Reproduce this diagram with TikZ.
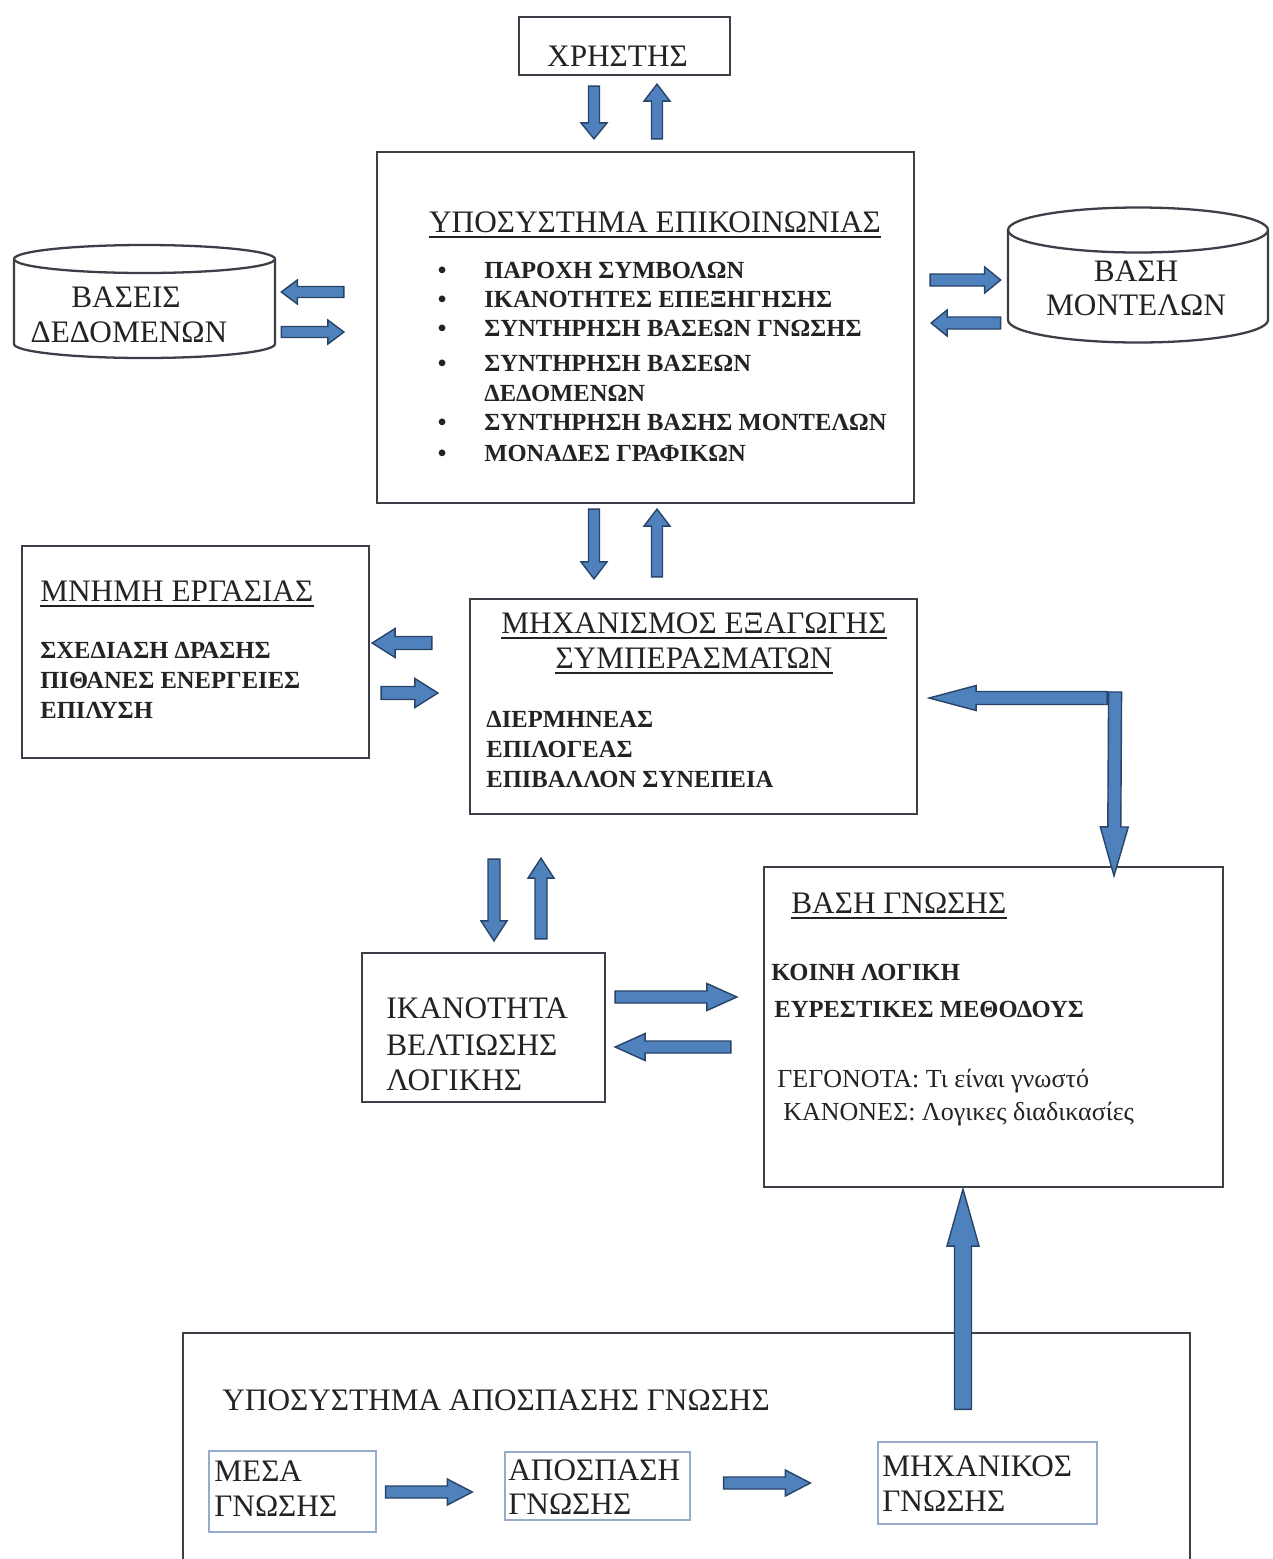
\documentclass[tikz,border=0pt]{standalone}
\usepackage{fontspec}
\setmainfont{Liberation Serif}
\usetikzlibrary{calc}
\definecolor{boxc}{RGB}{62,62,72}
\definecolor{arrf}{RGB}{79,129,189}
\definecolor{arrd}{RGB}{40,68,105}
\definecolor{innerc}{RGB}{150,172,202}
\definecolor{textc}{RGB}{35,35,35}
\newcommand{\bigf}{\fontsize{17.8}{21}\selectfont}
\newcommand{\smf}{\fontsize{14.8}{17}\selectfont}
\newcommand{\smb}{\fontsize{14}{17}\selectfont\bfseries}
\newcommand{\barrow}[5]{%
  \coordinate (bas) at #1;
  \coordinate (bat) at #2;
  \coordinate (bab) at ($(bat)!#5!(bas)$);
  \draw[blk] ($(bas)!#3!90:(bat)$) -- ($(bab)!#3!90:(bat)$) -- ($(bab)!#4!90:(bat)$)
    -- (bat) -- ($(bab)!#4!-90:(bat)$) -- ($(bab)!#3!-90:(bat)$) -- ($(bas)!#3!-90:(bat)$) -- cycle;}
\tikzset{
  box/.style={draw=boxc, line width=1.3pt, inner sep=0pt},
  ibox/.style={draw=innerc, line width=0.8pt, inner sep=0pt},
  ghost/.style={inner sep=0pt},
  txt/.style={inner sep=0pt, anchor=base west, text=textc},
  blk/.style={fill=arrf, draw=arrd, line width=0.8pt, line join=miter},
  cyl/.style={draw=boxc, line width=1.3pt},
  uline/.style={draw=textc, line width=1pt},
}
\begin{document}
\begin{tikzpicture}[x=0.02cm, y=-0.02cm]
\useasboundingbox (0,0) rectangle (1272,1559);
\fill[white] (0,0) rectangle (1272,1559);
\clip (0,0) rectangle (1272,1559);

% ---------- boxes ----------
\node[box, minimum width=4.22cm, minimum height=1.16cm] (user) at (624.5,46) {};
\node[box, minimum width=10.74cm, minimum height=7.02cm] (comm) at (645.5,327.5) {};
\node[ghost, minimum width=5.22cm, minimum height=2.26cm] (db) at (144.5,301.5) {};
\node[ghost, minimum width=5.2cm, minimum height=2.74cm] (mb) at (1137,278.5) {};
\node[box, minimum width=6.94cm, minimum height=4.24cm] (wm) at (195.5,652) {};
\node[box, minimum width=8.94cm, minimum height=4.3cm] (ie) at (693.5,706.5) {};
\node[box, minimum width=4.86cm, minimum height=2.98cm] (ik) at (483.5,1027.5) {};
\node[box, minimum width=9.18cm, minimum height=6.4cm] (kb) at (993.5,1027) {};
\node[box, minimum width=20.14cm, minimum height=4.94cm] (ka) at (686.5,1456.5) {};
\node[ibox, minimum width=3.34cm, minimum height=1.62cm] (ms) at (292.5,1491.5) {};
\node[ibox, minimum width=3.7cm, minimum height=1.36cm] (ap) at (597.5,1486) {};
\node[ibox, minimum width=4.38cm, minimum height=1.64cm] (mk) at (987.5,1483) {};

% ---------- cylinders ----------
\draw[cyl] (14,259) -- (14,344) arc[start angle=180, end angle=360, x radius=2.61cm, y radius=0.28cm] -- (275,259);
\draw[cyl] (144.5,259) ellipse[x radius=2.61cm, y radius=0.28cm];
\draw[cyl] (1008,230) -- (1008,320) arc[start angle=180, end angle=360, x radius=2.6cm, y radius=0.45cm] -- (1268,230);
\draw[cyl] (1138,230) ellipse[x radius=2.6cm, y radius=0.45cm];

% ---------- texts ----------
\node[txt, anchor=base, font=\bigf] (tuser) at (617.5,66) {ΧΡΗΣΤΗΣ};

\node[txt, anchor=base, font=\bigf] (tcomm) at (655,232) {ΥΠΟΣΥΣΤΗΜΑ ΕΠΙΚΟΙΝΩΝΙΑΣ};
\draw[uline] ([yshift=-0.1cm]tcomm.base west) -- ([yshift=-0.1cm]tcomm.base east);
\node[txt, font=\smb] (c1) at (437.5,278) {\makebox[0.93cm][l]{•}ΠΑΡΟΧΗ ΣΥΜΒΟΛΩΝ};
\node[txt, font=\smb] (c2) at (437.5,307) {\makebox[0.93cm][l]{•}ΙΚΑΝΟΤΗΤΕΣ ΕΠΕΞΗΓΗΣΗΣ};
\node[txt, font=\smb] (c3) at (437.5,336) {\makebox[0.93cm][l]{•}ΣΥΝΤΗΡΗΣΗ ΒΑΣΕΩΝ ΓΝΩΣΗΣ};
\node[txt, font=\smb] (c4) at (437.5,371) {\makebox[0.93cm][l]{•}ΣΥΝΤΗΡΗΣΗ ΒΑΣΕΩΝ};
\node[txt, font=\smb] (c5) at (484,401) {ΔΕΔΟΜΕΝΩΝ};
\node[txt, font=\smb] (c6) at (437.5,430) {\makebox[0.93cm][l]{•}ΣΥΝΤΗΡΗΣΗ ΒΑΣΗΣ ΜΟΝΤΕΛΩΝ};
\node[txt, font=\smb] (c7) at (437.5,461) {\makebox[0.93cm][l]{•}ΜΟΝΑΔΕΣ ΓΡΑΦΙΚΩΝ};

\node[txt, anchor=base, font=\bigf] (tdb1) at (126,307) {ΒΑΣΕΙΣ};
\node[txt, anchor=base, font=\bigf] (tdb2) at (129,342) {ΔΕΔΟΜΕΝΩΝ};
\node[txt, anchor=base, font=\bigf] (tmb1) at (1136,281) {ΒΑΣΗ};
\node[txt, anchor=base, font=\bigf] (tmb2) at (1136,315) {ΜΟΝΤΕΛΩΝ};

\node[txt, font=\bigf] (twm) at (40,601) {ΜΝΗΜΗ ΕΡΓΑΣΙΑΣ};
\draw[uline] ([yshift=-0.1cm]twm.base west) -- ([yshift=-0.1cm]twm.base east);
\node[txt, font=\smb] (w1) at (40,658) {ΣΧΕΔΙΑΣΗ ΔΡΑΣΗΣ};
\node[txt, font=\smb] (w2) at (40,688) {ΠΙΘΑΝΕΣ ΕΝΕΡΓΕΙΕΣ};
\node[txt, font=\smb] (w3) at (40,718) {ΕΠΙΛΥΣΗ};

\node[txt, anchor=base, font=\bigf] (tie1) at (694,633) {ΜΗΧΑΝΙΣΜΟΣ ΕΞΑΓΩΓΗΣ};
\draw[uline] ([yshift=-0.1cm]tie1.base west) -- ([yshift=-0.1cm]tie1.base east);
\node[txt, anchor=base, font=\bigf] (tie2) at (694,668) {ΣΥΜΠΕΡΑΣΜΑΤΩΝ};
\draw[uline] ([yshift=-0.1cm]tie2.base west) -- ([yshift=-0.1cm]tie2.base east);
\node[txt, font=\smb] (i1) at (486,727) {ΔΙΕΡΜΗΝΕΑΣ};
\node[txt, font=\smb] (i2) at (486,757) {ΕΠΙΛΟΓΕΑΣ};
\node[txt, font=\smb] (i3) at (486,787) {ΕΠΙΒΑΛΛΟΝ ΣΥΝΕΠΕΙΑ};

\node[txt, font=\bigf] (k1) at (386,1018) {ΙΚΑΝΟΤΗΤΑ};
\node[txt, font=\bigf] (k2) at (386,1055) {ΒΕΛΤΙΩΣΗΣ};
\node[txt, font=\bigf] (k3) at (386,1090) {ΛΟΓΙΚΗΣ};

\node[txt, font=\bigf] (tkb) at (791,913) {ΒΑΣΗ ΓΝΩΣΗΣ};
\draw[uline] ([yshift=-0.1cm]tkb.base west) -- ([yshift=-0.1cm]tkb.base east);
\node[txt, font=\smb] (b1) at (771,980) {ΚΟΙΝΗ ΛΟΓΙΚΗ};
\node[txt, font=\smb] (b2) at (774,1017) {ΕΥΡΕΣΤΙΚΕΣ ΜΕΘΟΔΟΥΣ};
\node[txt, font=\smf] (b3) at (777,1087) {ΓΕΓΟΝΟΤΑ: Τι είναι γνωστό};
\node[txt, font=\smf] (b4) at (783,1120) {ΚΑΝΟΝΕΣ: Λογικες διαδικασίες};

\node[txt, font=\bigf] (tka) at (222,1410) {ΥΠΟΣΥΣΤΗΜΑ ΑΠΟΣΠΑΣΗΣ ΓΝΩΣΗΣ};
\node[txt, font=\bigf] (m1) at (214,1481) {ΜΕΣΑ};
\node[txt, font=\bigf] (m2) at (214,1516) {ΓΝΩΣΗΣ};
\node[txt, font=\bigf] (a1) at (508,1480) {ΑΠΟΣΠΑΣΗ};
\node[txt, font=\bigf] (a2) at (508,1514) {ΓΝΩΣΗΣ};
\node[txt, font=\bigf] (e1) at (882,1476) {ΜΗΧΑΝΙΚΟΣ};
\node[txt, font=\bigf] (e2) at (882,1511) {ΓΝΩΣΗΣ};

% ---------- block arrows ----------
\barrow{($(user.south)+(-30.5,10)$)}{($(comm.north)+(-51.5,-12)$)}{0.11cm}{0.26cm}{0.32cm}
\barrow{($(comm.north)+(11.5,-12)$)}{($(user.south)+(32.5,8)$)}{0.11cm}{0.26cm}{0.34cm}
\barrow{($(comm.west)+(-32,-35.5)$)}{($(db.east)+(6,-9.5)$)}{0.11cm}{0.24cm}{0.32cm}
\barrow{($(db.east)+(6,30.5)$)}{($(comm.west)+(-32,4.5)$)}{0.11cm}{0.24cm}{0.32cm}
\barrow{($(comm.east)+(15,-47.5)$)}{($(mb.west)+(-6,1.5)$)}{0.12cm}{0.26cm}{0.32cm}
\barrow{($(mb.west)+(-6,44.5)$)}{($(comm.east)+(16,-4.5)$)}{0.12cm}{0.26cm}{0.32cm}
\barrow{($(comm.south)+(-51.5,5)$)}{($(ie.north)+(-99.5,-19)$)}{0.11cm}{0.26cm}{0.34cm}
\barrow{($(ie.north)+(-36.5,-21)$)}{($(comm.south)+(11.5,5)$)}{0.11cm}{0.26cm}{0.34cm}
\barrow{($(ie.west)+(-37,-63.5)$)}{($(wm.east)+(2,-9)$)}{0.13cm}{0.29cm}{0.46cm}
\barrow{($(wm.east)+(11,41)$)}{($(ie.west)+(-31,-13.5)$)}{0.13cm}{0.29cm}{0.46cm}
\barrow{($(ie.south)+(-199.5,44)$)}{($(ik.north)+(10.5,-11)$)}{0.12cm}{0.26cm}{0.4cm}
\barrow{($(ik.north)+(57.5,-13)$)}{($(ie.south)+(-152.5,43)$)}{0.12cm}{0.26cm}{0.4cm}
\barrow{($(ik.east)+(9,-30.5)$)}{($(kb.west)+(-26,-30)$)}{0.12cm}{0.27cm}{0.6cm}
\barrow{($(kb.west)+(-32,20)$)}{($(ik.east)+(9,19.5)$)}{0.12cm}{0.27cm}{0.6cm}
\barrow{($(ie.east)+(197,-14.5)$)}{($(kb.north)+(120.5,10)$)}{0.13cm}{0.28cm}{0.98cm}
\barrow{($(ie.east)+(189,-8.5)$)}{($(ie.east)+(11,-8.5)$)}{0.13cm}{0.25cm}{0.94cm}
\barrow{($(mk.north)+(-24.5,-32)$)}{($(kb.south)+(-30.5,1)$)}{0.17cm}{0.32cm}{1.14cm}
\barrow{($(ms.east)+(9,0.5)$)}{($(ap.west)+(-32,6)$)}{0.12cm}{0.26cm}{0.5cm}
\barrow{($(ap.east)+(33,-3)$)}{($(mk.west)+(-67,0)$)}{0.12cm}{0.26cm}{0.5cm}
\end{tikzpicture}
\end{document}
